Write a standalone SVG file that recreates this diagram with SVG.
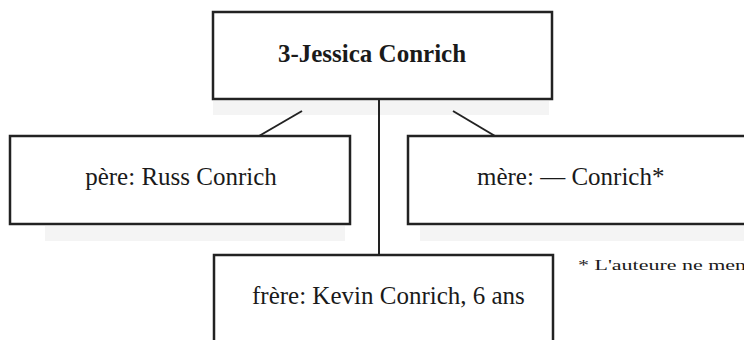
<svg xmlns="http://www.w3.org/2000/svg" width="744" height="340" viewBox="0 0 744 340">
<style>
.box{fill:#fff;stroke:#222;stroke-width:2.5}
.lbl{font-family:"Liberation Serif","Times New Roman",serif;font-size:25px;fill:#1a1a1a}
.b{font-weight:bold}
.con{stroke:#222;stroke-width:2;fill:none}
.scan{fill:#ececec;opacity:0.6}
</style>
<rect width="744" height="340" fill="#fff"/>
<g id="scan-shadows">
<rect class="scan" x="213" y="101" width="336" height="14"/>
<rect class="scan" x="45" y="226" width="300" height="15"/>
<rect class="scan" x="420" y="226" width="324" height="15"/>
</g>
<g id="connectors">
<line class="con" x1="302" y1="111" x2="259" y2="136"/>
<line class="con" x1="453" y1="111" x2="495" y2="136"/>
<line class="con" x1="379" y1="100" x2="379" y2="255" stroke-width="1.6"/>
</g>
<g id="node-jessica">
<rect class="box" x="213" y="12" width="339" height="87"/>
<text class="lbl b" x="372" y="62" text-anchor="middle">3-Jessica Conrich</text>
</g>
<g id="node-pere">
<rect class="box" x="10" y="136" width="340" height="88"/>
<text class="lbl" x="181" y="185" text-anchor="middle">père: Russ Conrich</text>
</g>
<g id="node-mere">
<rect class="box" x="408" y="136" width="345" height="88"/>
<text class="lbl" x="477" y="185">mère: — Conrich*</text>
</g>
<g id="node-frere">
<rect class="box" x="214" y="255" width="339" height="95"/>
<text class="lbl" x="252" y="304">frère: Kevin Conrich, 6 ans</text>
</g>
<g id="footnote">
<text x="578" y="270" font-family="'Liberation Serif','Times New Roman',serif" font-size="15" fill="#1a1a1a" textLength="168" lengthAdjust="spacingAndGlyphs">* L'auteure ne men</text>
</g>
</svg>
